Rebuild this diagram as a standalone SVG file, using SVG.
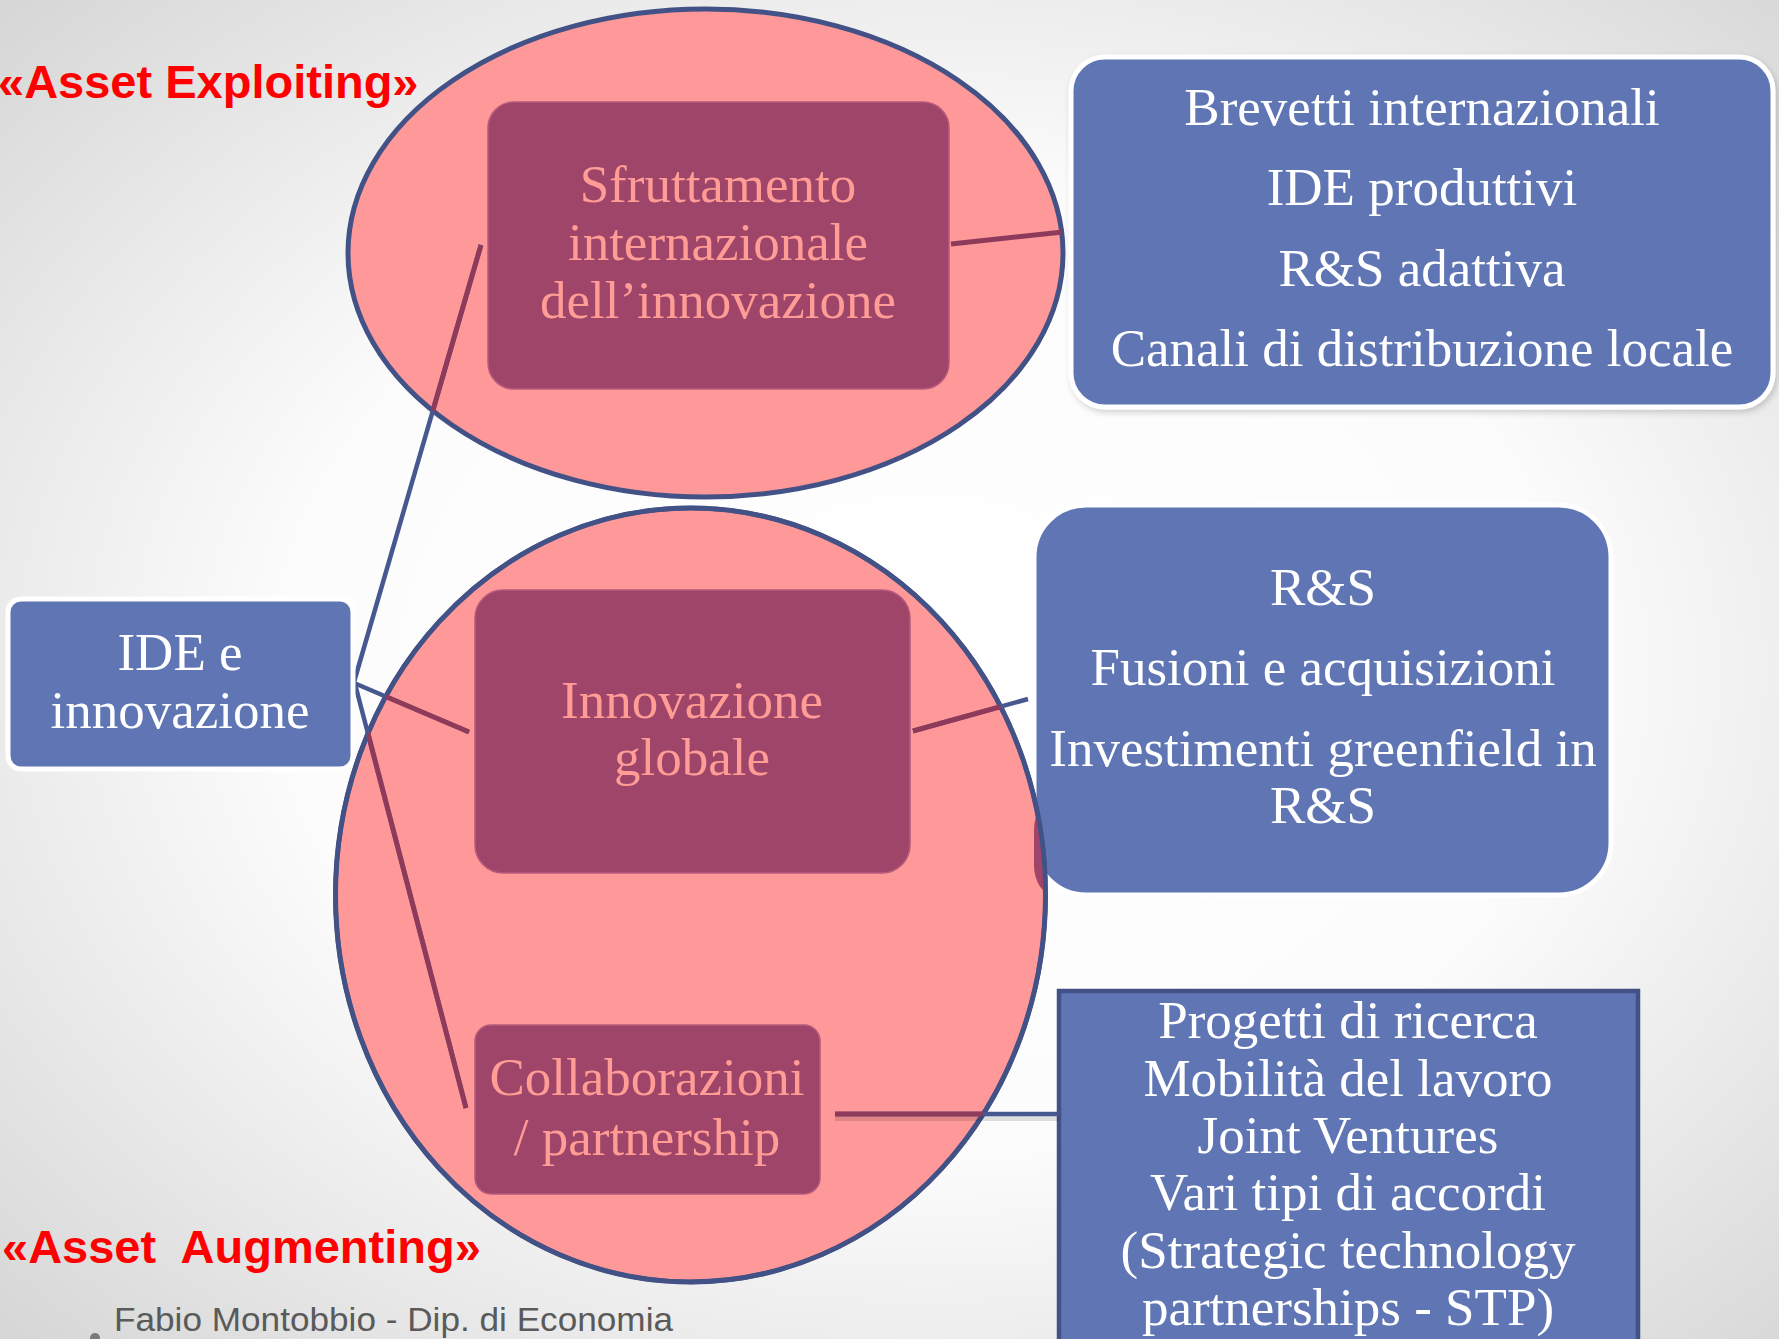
<svg xmlns="http://www.w3.org/2000/svg" width="1779" height="1339" viewBox="0 0 1779 1339">
  <defs>
    <radialGradient id="bg" cx="52%" cy="50%" r="72%">
      <stop offset="0" stop-color="#ffffff"/>
      <stop offset="0.5" stop-color="#fcfcfc"/>
      <stop offset="1" stop-color="#d6d6d6"/>
    </radialGradient>
    <clipPath id="inEllipses">
      <ellipse cx="705.5" cy="253" rx="357.5" ry="244"/>
      <ellipse cx="690.5" cy="895" rx="355" ry="387"/>
    </clipPath>
    <clipPath id="midEllipse">
      <ellipse cx="690.5" cy="895" rx="355" ry="387"/>
    </clipPath>
    <filter id="shadow" x="-5%" y="-5%" width="110%" height="115%">
      <feDropShadow dx="2" dy="3" stdDeviation="3" flood-color="#000" flood-opacity="0.18"/>
    </filter>
  </defs>
  <style>
    .serif { font-family: "Liberation Serif", "Times New Roman", serif; font-size: 53px; text-anchor: middle; }
    .white { fill: #ffffff; }
    .salmon { fill: #ff9c95; }
    .bluebox-w { fill: #6076b4; stroke: #ffffff; stroke-width: 5; }
    .mauvebox { fill: #9e4569; stroke: #b85a7c; stroke-width: 1.5; }
    .ell { fill: #ff9898; stroke: #435286; stroke-width: 5; }
    .conn-blue { stroke: #46588f; stroke-width: 4.5; fill: none; }
    .conn-mauve { stroke: #8e3a5b; stroke-width: 5; fill: none; }
    .label { font-family: "Liberation Sans", Arial, sans-serif; font-weight: bold; font-size: 47px; fill: #ff0000; white-space: pre; }
    .footer { font-family: "Liberation Sans", Arial, sans-serif; font-size: 34px; fill: #5a5a5a; }
  </style>

  <rect x="0" y="0" width="1779" height="1339" fill="url(#bg)"/>

  <!-- right-side blue boxes -->
  <g id="box-exploiting-list" filter="url(#shadow)">
    <rect class="bluebox-w" x="1071" y="57" width="702" height="350" rx="34"/>
    <text class="serif white" x="1422" y="125">Brevetti internazionali</text>
    <text class="serif white" x="1422" y="205">IDE produttivi</text>
    <text class="serif white" x="1422" y="286">R&amp;S adattiva</text>
    <text class="serif white" x="1422" y="366">Canali di distribuzione locale</text>
  </g>

  <g id="box-global-list">
    <rect class="bluebox-w" x="1034" y="505" width="577" height="390" rx="52" stroke-width="3"/>
    <text class="serif white" x="1323" y="605">R&amp;S</text>
    <text class="serif white" x="1323" y="685">Fusioni e acquisizioni</text>
    <text class="serif white" x="1323" y="766">Investimenti greenfield in</text>
    <text class="serif white" x="1323" y="823">R&amp;S</text>
  </g>

  <g id="box-collab-list">
    <rect x="1059" y="991" width="579" height="370" fill="#6076b4" stroke="#435286" stroke-width="4.5"/>
    <text class="serif white" x="1348" y="1038">Progetti di ricerca</text>
    <text class="serif white" x="1348" y="1096">Mobilità del lavoro</text>
    <text class="serif white" x="1348" y="1153">Joint Ventures</text>
    <text class="serif white" x="1348" y="1210">Vari tipi di accordi</text>
    <text class="serif white" x="1348" y="1268">(Strategic technology</text>
    <text class="serif white" x="1348" y="1325">partnerships - STP)</text>
  </g>

  <!-- ellipses -->
  <g id="ellipse-exploiting">
    <ellipse class="ell" cx="705.5" cy="253" rx="357.5" ry="244"/>
  </g>
  <g id="ellipse-augmenting">
    <ellipse class="ell" cx="690.5" cy="895" rx="355" ry="387" stroke="none"/>
    <rect x="1034" y="800" width="40" height="95" rx="30" fill="#9e4569" clip-path="url(#midEllipse)"/>
    <ellipse cx="690.5" cy="895" rx="355" ry="387" fill="none" stroke="#435286" stroke-width="4.5"/>
  </g>

  <!-- connectors -->
  <g id="connectors">
    <g>
      <line x1="835" y1="1118" x2="1059" y2="1118" stroke="#000" stroke-opacity="0.12" stroke-width="6"/>
      <line class="conn-blue" x1="354" y1="682" x2="481" y2="245"/>
      <line class="conn-blue" x1="354" y1="683" x2="469" y2="732"/>
      <line class="conn-blue" x1="355" y1="684" x2="466" y2="1108"/>
      <line class="conn-blue" x1="913" y1="731" x2="1028" y2="699"/>
      <line class="conn-blue" x1="835" y1="1114" x2="1059" y2="1114" stroke="#5a70b0" stroke-width="6"/>
    </g>
    <g clip-path="url(#inEllipses)">
      <line class="conn-mauve" x1="354" y1="682" x2="481" y2="245"/>
      <line class="conn-mauve" x1="354" y1="683" x2="469" y2="732"/>
      <line class="conn-mauve" x1="355" y1="684" x2="466" y2="1108"/>
      <line class="conn-mauve" x1="913" y1="731" x2="1028" y2="699"/>
      <line class="conn-mauve" x1="835" y1="1114" x2="1059" y2="1114" stroke-width="6"/>
      <line class="conn-mauve" x1="951" y1="244" x2="1063" y2="232"/>
    </g>
  </g>

  <!-- inner mauve nodes -->
  <g id="node-sfruttamento">
    <rect class="mauvebox" x="488" y="102" width="461" height="287" rx="26"/>
    <text class="serif salmon" x="718" y="202">Sfruttamento</text>
    <text class="serif salmon" x="718" y="260">internazionale</text>
    <text class="serif salmon" x="718" y="318">dell’innovazione</text>
  </g>

  <g id="node-innovazione-globale">
    <rect class="mauvebox" x="475" y="590" width="435" height="283" rx="28"/>
    <text class="serif salmon" x="692" y="718">Innovazione</text>
    <text class="serif salmon" x="692" y="775">globale</text>
  </g>

  <g id="node-collaborazioni">
    <rect class="mauvebox" x="475" y="1025" width="345" height="169" rx="16"/>
    <text class="serif salmon" x="647" y="1095">Collaborazioni</text>
    <text class="serif salmon" x="647" y="1155">/ partnership</text>
  </g>

  <g id="node-ide">
    <rect class="bluebox-w" x="8" y="599" width="345" height="170" rx="13"/>
    <text class="serif white" x="180" y="670">IDE e</text>
    <text class="serif white" x="180" y="728">innovazione</text>
  </g>

  <!-- labels -->
  <g id="label-exploiting">
    <text class="label" x="-2" y="98">«Asset Exploiting»</text>
  </g>
  <g id="label-augmenting">
    <text class="label" x="2" y="1263">«Asset  Augmenting»</text>
  </g>

  <g id="footer">
    <circle cx="95" cy="1338" r="5" fill="#7a7a7a"/>
    <text class="footer" x="114" y="1331" textLength="559" lengthAdjust="spacingAndGlyphs">Fabio Montobbio - Dip. di Economia</text>
  </g>
</svg>
